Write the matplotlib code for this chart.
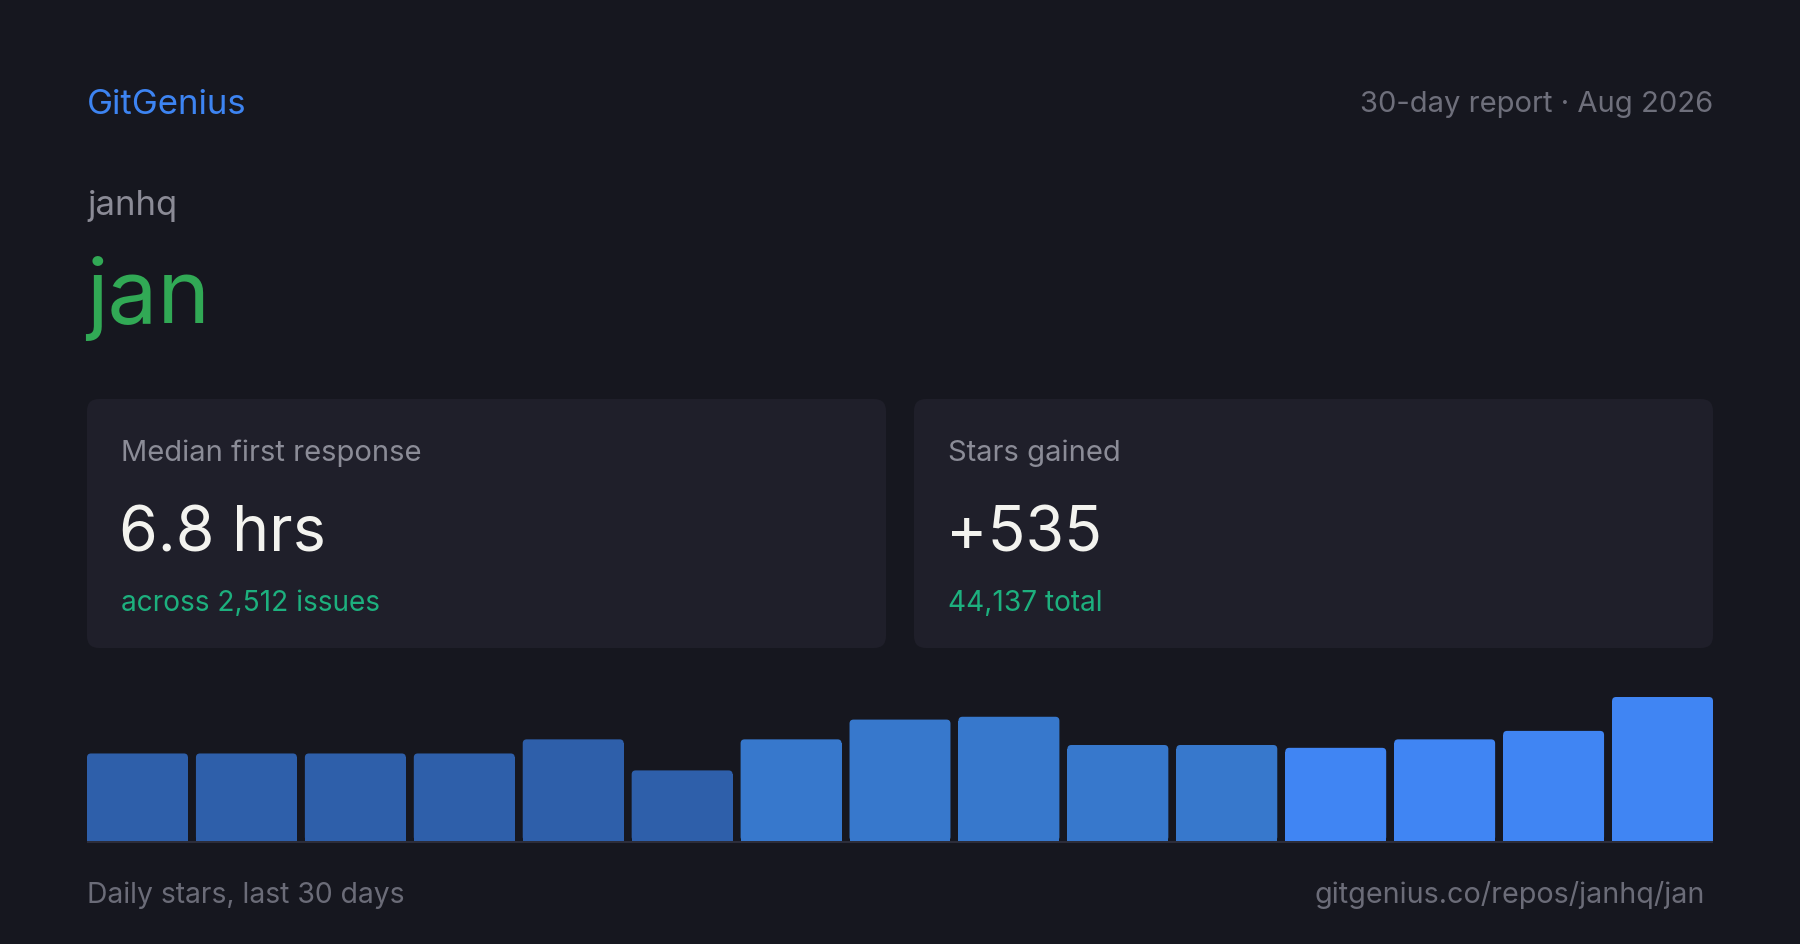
"""
    GitGenius 30-day report card for janhq/jan
"""
import matplotlib
matplotlib.use("Agg")
import matplotlib.pyplot as plt
from matplotlib.patches import FancyBboxPatch

plt.rcParams['font.family'] = ['Inter', 'DejaVu Sans']

# data
owner = "janhq"
repo = "jan"
report_label = "30-day report · Aug 2026"
card_titles = ["Median first response", "Stars gained"]
card_values = ["6.8 hrs", "+535"]
card_notes = ["across 2,512 issues", "44,137 total"]
stars_per_bar = [31, 31, 31, 31, 36, 25, 36, 43, 44, 34, 34, 33, 36, 39, 51]

BG = "#16171f"
CARD = "#1f1f2a"
BAR_SHADES = ["#2e5faa", "#3778cc", "#4085f3"]

W, H = 1800, 945
fig = plt.figure(figsize=(W / 100, H / 100), dpi=100, facecolor=BG)

# full-figure canvas in pixel units for cards and text
canvas = fig.add_axes([0, 0, 1, 1])
canvas.set_xlim(0, W)
canvas.set_ylim(H, 0)
canvas.axis("off")

canvas.text(87, 114, "GitGenius", color="#3d84f2", fontsize=25, va="baseline")
canvas.text(1713, 112, report_label, color="#6e6f7b", fontsize=21,
            va="baseline", ha="right")
canvas.text(87, 215, owner, color="#8b8b96", fontsize=25, va="baseline")
canvas.text(86, 323, repo, color="#31a955", fontsize=64, va="baseline")

# the two stat cards
for i, left in enumerate([87, 914]):
    card = FancyBboxPatch((left, 400), 799, 249,
                          boxstyle="round,pad=0,rounding_size=12",
                          facecolor=CARD, edgecolor="none")
    canvas.add_patch(card)
    canvas.text(left + 34, 461, card_titles[i], color="#8b8c97",
                fontsize=21, va="baseline")
    canvas.text(left + 32, 552, card_values[i], color="#f3f3ef",
                fontsize=45, va="baseline")
    canvas.text(left + 34, 611, card_notes[i], color="#1db07e",
                fontsize=20.2, va="baseline")

# baseline under the bars
canvas.plot([87, 1713], [843, 843], color="#2c2d3a", lw=1.5,
            solid_capstyle="butt")

canvas.text(87, 903, "Daily stars, last 30 days", color="#6b6c78",
            fontsize=20.4, va="baseline")
canvas.text(1705, 903, "gitgenius.co/repos/janhq/jan", color="#6b6c78",
            fontsize=20.7, va="baseline", ha="right")

# bar chart
n = len(stars_per_bar)
width = 101 / 109
ax = fig.add_axes([87 / W, (H - 842) / H, 1626 / W, 144 / H])
ax.set_xlim(-width / 2, n - 1 + width / 2)
ax.set_ylim(0, max(stars_per_bar))
ax.axis("off")
ax.patch.set_alpha(0)

shades = [BAR_SHADES[0]] * 6 + [BAR_SHADES[1]] * 5 + [BAR_SHADES[2]] * 4
bars = ax.bar(range(n), stars_per_bar, width=width, color=shades,
              linewidth=0, clip_on=False)

# round the top corners (4 px)
px_x = 1626 / (n - 1 + width)
px_y = 144 / max(stars_per_bar)
r_x, r_y = 4 / px_x, 4 / px_y
for patch, color in zip(bars, shades):
    x0, h = patch.get_x(), patch.get_height()
    patch.set_height(h - r_y)
    top = FancyBboxPatch((x0, 0), width, h,
                         boxstyle=f"round,pad=0,rounding_size={r_x}",
                         mutation_aspect=r_y / r_x,
                         facecolor=color, edgecolor="none", clip_on=False)
    ax.add_patch(top)

fig.savefig("out.png", dpi=100, facecolor=BG)
